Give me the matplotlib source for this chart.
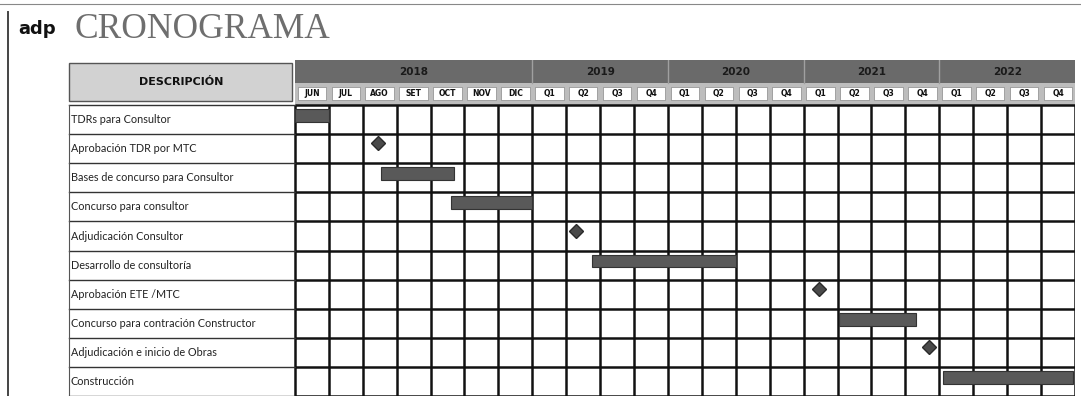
import matplotlib.pyplot as plt
from matplotlib.patches import Rectangle
from matplotlib.lines import Line2D

# task list (rows, top to bottom)
tasks = ["TDRs para Consultor", "Aprobación TDR por MTC", "Bases de concurso para Consultor",
         "Concurso para consultor", "Adjudicación Consultor", "Desarrollo de consultoría",
         "Aprobación ETE /MTC", "Concurso para contración Constructor",
         "Adjudicación e inicio de Obras", "Construcción"]

# timeline columns
months = ["JUN", "JUL", "AGO", "SET", "OCT", "NOV", "DIC"]
years = ["2018", "2019", "2020", "2021", "2022"]
year_span = [7, 4, 4, 4, 4]
quarters = ["Q1", "Q2", "Q3", "Q4"]

# bars: row index, start column, end column
bar_rows = [0, 2, 3, 5, 7, 9]
bar_start = [0.0, 2.55, 4.6, 8.75, 16.05, 19.1]
bar_end = [1.0, 4.7, 7.0, 13.0, 18.3, 22.95]

# milestones: row index, column position
ms_rows = [1, 4, 6, 8]
ms_pos = [2.45, 8.3, 15.45, 18.7]

cols = months + quarters * 4
ncol = len(cols)
nrow = len(tasks)
xmin = -6.69
ytop = -1.55

fig = plt.figure(figsize=(10.81, 3.96), dpi=100)
ax = fig.add_axes([68 / 1081, 0, (1075 - 68) / 1081, (396 - 60) / 396])
ax.set_xlim(xmin, ncol)
ax.set_ylim(nrow, ytop)
ax.axis("off")

# title and logo
fig.text(75 / 1081, 1 - 30 / 396, "CRONOGRAMA", family="Liberation Serif", fontsize=25.5,
         color="#6e6e6e", va="center", ha="left")
fig.text(18 / 1081, 1 - 29 / 396, "adp", family="DejaVu Sans", fontweight="bold",
         fontsize=13, color="#111111", va="center", ha="left")
fig.add_artist(Line2D([8 / 1081, 8 / 1081], [0, 1 - 12 / 396], color="#444444", lw=1.4))
fig.add_artist(Line2D([0, 1], [1 - 4 / 396, 1 - 4 / 396], color="#888888", lw=0.8))

# description header
ax.add_patch(Rectangle((xmin + 0.02, -1.45), -xmin - 0.12, 1.3, facecolor="#d2d2d2",
                       edgecolor="#555555", lw=1.0))
ax.text(xmin / 2, -0.8, "DESCRIPCIÓN", ha="center", va="center", fontsize=8,
        fontweight="bold", color="#111111")

# year row
ax.add_patch(Rectangle((0, ytop), ncol, 0.8, facecolor="#6a6a6a", edgecolor="none"))
ax.add_patch(Rectangle((0, ytop + 0.8), ncol, 0.75, facecolor="#bdbdbd", edgecolor="none"))
x0 = 0
for yr, sp in zip(years, year_span):
    ax.text(x0 + sp / 2, ytop + 0.4, yr, ha="center", va="center", fontsize=7.5,
            fontweight="bold", color="#1a1a1a")
    if x0 > 0:
        ax.plot([x0, x0], [ytop, ytop + 0.8], color="#a0a0a0", lw=1)
    x0 += sp

# month / quarter boxes
for i, c in enumerate(cols):
    ax.add_patch(Rectangle((i + 0.08, -0.63), 0.84, 0.45, facecolor="white",
                           edgecolor="#888888", lw=0.5))
    ax.text(i + 0.5, -0.405, c, ha="center", va="center", fontsize=5.5,
            fontweight="bold", color="#111111")

# grid
for i in range(ncol + 1):
    ax.plot([i, i], [0, nrow], color="#111111", lw=1.8, solid_capstyle="butt")
for r in range(nrow + 1):
    ax.plot([0, ncol], [r, r], color="#111111", lw=1.8, solid_capstyle="butt")
    ax.plot([xmin + 0.02, 0], [r, r], color="#333333", lw=1.0)
ax.plot([xmin + 0.02, xmin + 0.02], [0, nrow], color="#555555", lw=0.8)

# task labels
for r, t in enumerate(tasks):
    ax.text(xmin + 0.08, r + 0.5, t, ha="left", va="center", fontsize=7.8,
            family="Lato", color="#222222")

# bars
ax.barh([r + 0.36 for r in bar_rows], [e - s for s, e in zip(bar_start, bar_end)],
        left=bar_start, height=0.44, color="#595959", edgecolor="#333333", lw=0.8,
        zorder=3)

# milestones
ax.plot(ms_pos, [r + 0.32 for r in ms_rows], "D", markersize=7.5, color="#4a4a4a",
        markeredgecolor="#2a2a2a", zorder=4, ls="none")

fig.savefig("out.png", dpi=100, facecolor="white")
